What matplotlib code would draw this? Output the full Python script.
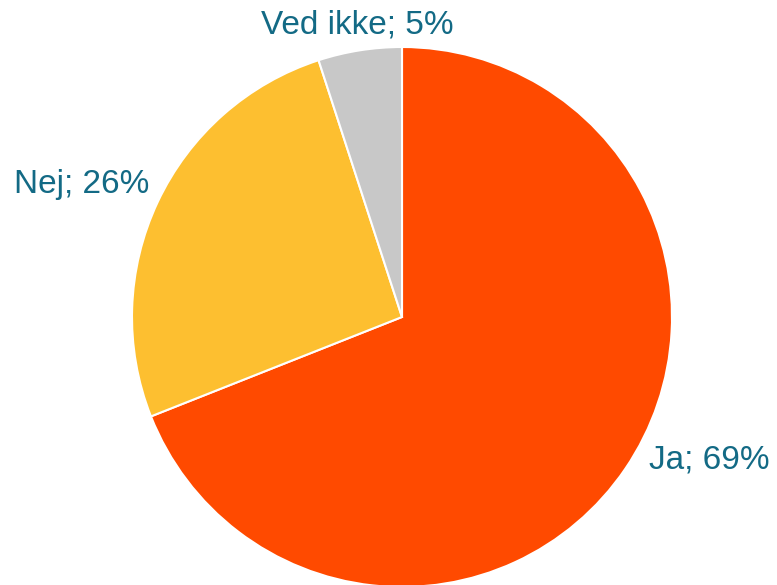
import matplotlib
matplotlib.use("Agg")
from matplotlib import pyplot as plt

categories = ["Ja", "Nej", "Ved ikke"]
values = [69, 26, 5]
colors = ["#FF4A00", "#FDBF30", "#C8C8C8"]

# label positions in units of the pie radius
label_pos = [(1.14, -0.53), (-1.185, 0.49), (-0.167, 1.08)]

fig = plt.figure(figsize=(7.77, 5.85), dpi=100)
ax = fig.add_axes([0, 0, 1, 1])

ax.pie(values, colors=colors, startangle=90, counterclock=False,
       radius=1.0, center=(0, 0),
       wedgeprops=dict(edgecolor="white", linewidth=1.5))

# Add labels
for name, val, (x, y) in zip(categories, values, label_pos):
    ax.text(x, y, f"{name}; {val}%", ha="center", va="center",
            fontsize=24, color="#136A85", family="Liberation Sans")

# keep pie centred at (402, 317) px with 270 px radius
ax.set_xlim(-402 / 270, (777 - 402) / 270)
ax.set_ylim(-(585 - 317) / 270, 317 / 270)
ax.set_aspect("auto")
ax.axis("off")

fig.savefig("out.png", dpi=100)
